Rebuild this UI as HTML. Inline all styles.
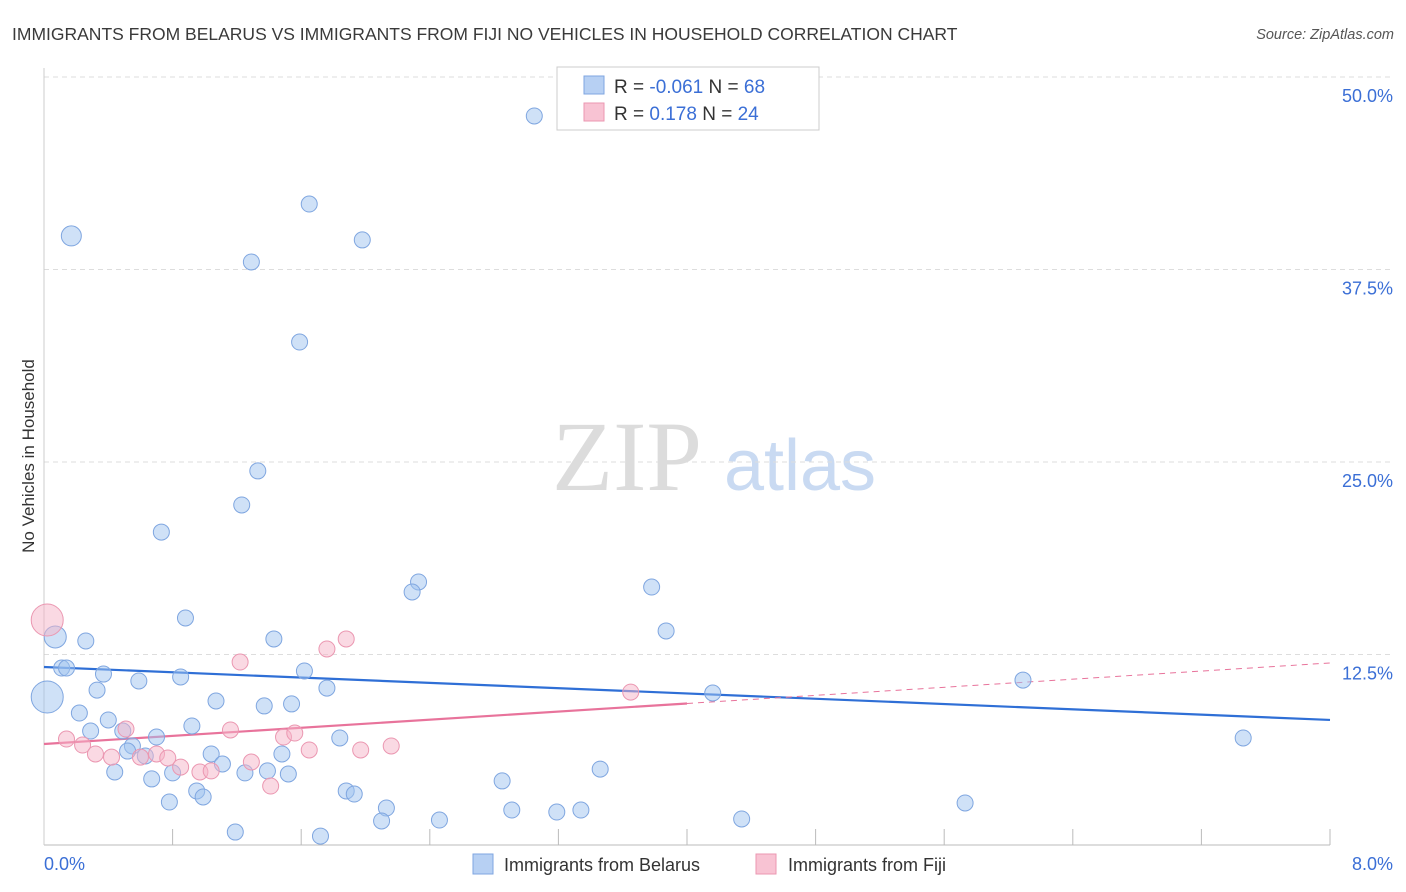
<!DOCTYPE html>
<html><head><meta charset="utf-8"><style>
body{margin:0;background:#fff;font-family:"Liberation Sans",sans-serif;}
svg{display:block}
</style></head><body>
<svg id="c" width="1406" height="892" xmlns="http://www.w3.org/2000/svg">
<text x="12" y="40" font-size="17.5" fill="#3a3a3a">IMMIGRANTS FROM BELARUS VS IMMIGRANTS FROM FIJI NO VEHICLES IN HOUSEHOLD CORRELATION CHART</text>
<text x="1394" y="39" font-size="14.5" fill="#555" font-style="italic" text-anchor="end">Source: ZipAtlas.com</text>
<text x="627" y="490" font-size="100" fill="#dcdcdc" text-anchor="middle" font-family="Liberation Serif,serif">ZIP</text>
<text x="800" y="490" font-size="72" fill="#c9daf2" text-anchor="middle">atlas</text>
<text x="34" y="456" font-size="17" fill="#333" text-anchor="middle" transform="rotate(-90 34 456)">No Vehicles in Household</text>
<g id="grid"></g><g id="axes"></g><g id="trends"></g><g id="pts"></g>
<g>
<rect x="557" y="67" width="262" height="63" fill="#fff" stroke="#ccc"/>
<rect x="584" y="76" width="20" height="18" fill="#b7d0f3" stroke="#7fa6e0"/>
<rect x="584" y="103" width="20" height="18" fill="#f8c3d3" stroke="#eb97b1"/>
<text x="614" y="93" font-size="19" fill="#333">R = <tspan fill="#3b6fd6">-0.061</tspan>   N = <tspan fill="#3b6fd6">68</tspan></text>
<text x="614" y="120" font-size="19" fill="#333">R =   <tspan fill="#3b6fd6">0.178</tspan>   N = <tspan fill="#3b6fd6">24</tspan></text>
</g>
<g>
<rect x="473" y="854" width="20" height="20" fill="#b7d0f3" stroke="#7fa6e0"/>
<text x="504" y="871" font-size="18" fill="#333">Immigrants from Belarus</text>
<rect x="756" y="854" width="20" height="20" fill="#f8c3d3" stroke="#eb97b1"/>
<text x="788" y="871" font-size="18" fill="#333">Immigrants from Fiji</text>
</g>
</svg>
<script>
const yTicks=[12.5,25,37.5,50];
const yTickLabels=["12.5%","25.0%","37.5%","50.0%"];
const xTickCount=10;
const belX=[3.05,1.65,0.17,1.98,1.29,1.59,1.33,1.23,0.73,2.33,2.29,3.78,0.88,3.87,0.07,0.26,1.43,0.11,0.14,0.37,1.62,0.59,0.85,0.33,1.76,6.09,4.16,0.02,1.07,1.37,1.54,0.22,0.40,0.92,0.29,0.49,0.70,1.84,7.46,0.55,0.52,0.63,1.04,1.48,1.11,0.80,0.44,1.25,1.39,1.52,3.46,0.67,2.85,1.88,1.93,0.95,0.99,0.78,2.13,5.73,2.91,3.19,3.34,2.10,2.46,4.34,1.19,1.72];
const belY=[47.47,41.75,39.68,39.42,37.99,32.79,24.42,22.21,20.45,17.21,16.56,16.88,14.87,14.03,13.64,13.38,13.51,11.62,11.62,11.23,11.43,10.78,11.04,10.19,10.32,10.84,10.0,9.74,9.48,9.16,9.29,8.70,8.25,7.86,7.53,7.53,7.14,7.08,7.08,6.56,6.23,5.91,6.04,6.04,5.39,4.81,4.87,4.81,4.94,4.74,5.06,4.42,4.29,3.64,3.44,3.64,3.25,2.92,2.53,2.86,2.40,2.27,2.40,1.69,1.75,1.82,0.97,0.71];
const belBig={2:10,14:11,27:16};
const fijX=[0.02,0.14,0.24,0.32,0.42,0.51,0.60,0.70,0.77,0.85,0.97,1.04,1.16,1.22,1.29,1.41,1.49,1.56,1.65,1.76,1.88,1.97,2.16,3.65];
const fijY=[14.74,7.01,6.62,6.04,5.84,7.66,5.84,6.04,5.78,5.19,4.87,4.94,7.60,12.01,5.52,3.96,7.14,7.40,6.30,12.86,13.51,6.30,6.56,10.06];
const fijBig={0:16};
const belTrend=[11.69,8.25];
const fijTrend=[6.69,11.95];
const fijSolidEnd=4;
const NS="http://www.w3.org/2000/svg";
const X=v=>44+v/8*1286, Y=v=>847-v/12.5*192.5;
function mk(t,a,p){const e=document.createElementNS(NS,t);for(const k in a)e.setAttribute(k,a[k]);p.appendChild(e);return e;}
const grid=document.getElementById('grid'),axes=document.getElementById('axes');
yTicks.forEach((t,i)=>{
 const l=mk('line',{x1:44,x2:1394,y1:Y(t),y2:Y(t),stroke:'#ddd','stroke-dasharray':'5,4'},grid);
 
 
 const tx=mk('text',{x:1393,y:Y(t)+25,'font-size':18,fill:'#3b6fd6','text-anchor':'end'},grid);
 tx.textContent=yTickLabels[i];
 
 
});
const ax=mk('line',{x1:44,x2:1330,y1:845,y2:845,stroke:'#bbb'},axes);


const ay=mk('line',{x1:44,x2:44,y1:68,y2:845,stroke:'#ccc'},axes);


for(let i=1;i<=xTickCount;i++){const v=8*i/xTickCount;const t=mk('line',{x1:X(v),x2:X(v),y1:829,y2:845,stroke:'#bbb'},axes);
 
 }
const x0=mk('text',{x:44,y:870,'font-size':18,fill:'#3b6fd6'},axes);x0.textContent='0.0%';


const x1=mk('text',{x:1393,y:870,'font-size':18,fill:'#3b6fd6','text-anchor':'end'},axes);x1.textContent='8.0%';


const pts=document.getElementById('pts');
belX.forEach((x,i)=>{const c=mk('circle',{cx:X(x),cy:Y(belY[i]),r:belBig[i]||8,fill:'rgba(160,195,240,0.5)',stroke:'#7fa6e0','stroke-width':1},pts);
 
 });
fijX.forEach((x,i)=>{const c=mk('circle',{cx:X(x),cy:Y(fijY[i]),r:fijBig[i]||8,fill:'rgba(246,180,200,0.5)',stroke:'#eb97b1','stroke-width':1},pts);
 
 });
const tr=document.getElementById('trends');
const bt=mk('line',{x1:X(0),y1:Y(belTrend[0]),x2:X(8),y2:Y(belTrend[1]),stroke:'#2f6fd6','stroke-width':2.2},tr);


const fm=fijTrend[0]+(fijTrend[1]-fijTrend[0])*fijSolidEnd/8;
const ft=mk('line',{x1:X(0),y1:Y(fijTrend[0]),x2:X(fijSolidEnd),y2:Y(fm),stroke:'#e8739b','stroke-width':2.2},tr);


const fd=mk('line',{x1:X(fijSolidEnd),y1:Y(fm),x2:X(8),y2:Y(fijTrend[1]),stroke:'#e8739b','stroke-width':1,'stroke-dasharray':'6,5'},tr);


</script>
</body></html>
